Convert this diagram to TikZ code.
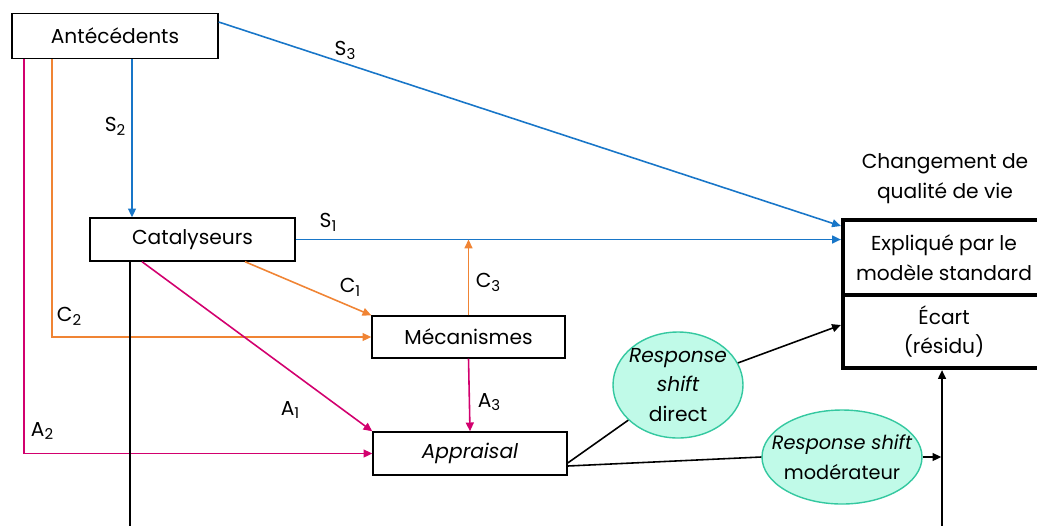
\documentclass[tikz,border=0pt]{standalone}
\usepackage{fontspec}
\setmainfont{Poppins}
\usetikzlibrary{arrows.meta,shapes.geometric}

\definecolor{bleuS}{RGB}{24,118,200}
\definecolor{orangeC}{RGB}{240,132,52}
\definecolor{roseA}{RGB}{210,0,110}
\definecolor{vertfond}{RGB}{192,250,232}
\definecolor{vertbord}{RGB}{52,200,160}

\newcommand{\ind}[1]{\raisebox{-0.35ex}{\fontsize{8.5}{10}\selectfont #1}}

\begin{document}
\begin{tikzpicture}[x=0.02cm,y=-0.02cm,
    font=\fontsize{11.5}{17}\selectfont,
    >={Triangle[length=5pt,width=4.5pt]},
    boite/.style={draw,line width=0.8pt,inner sep=0pt},
    bloc/.style={draw,line width=2.4pt,inner sep=0pt,minimum width=202*0.02cm,align=center},
    bulle/.style={ellipse,draw=vertbord,fill=vertfond,line width=0.8pt,inner xsep=-12pt,inner ysep=-8pt,align=center},
    lien/.style={line width=0.9pt},
    lab/.style={inner sep=0pt}]
\clip (0,0) rectangle (1037,525);

% boites
\node[boite,minimum width=206*0.02cm,minimum height=45*0.02cm] (ante) at (115,36) {Antécédents};
\node[boite,minimum width=205*0.02cm,minimum height=43*0.02cm] (cat) at (192.5,239.5) {Catalyseurs};
\node[boite,minimum width=193*0.02cm,minimum height=42*0.02cm] (meca) at (468.5,337) {Mécanismes};
\node[boite,minimum width=194*0.02cm,minimum height=43*0.02cm] (appr) at (470,453.5) {\itshape Appraisal};

% changement de qualite de vie
\node[align=center,inner sep=0pt] (titre) at (945,179) {Changement de\\qualité de vie};
\node[bloc,minimum height=75*0.02cm] (expl) at (944,257.5) {Expliqué par le\\modèle standard};
\node[bloc,minimum height=73*0.02cm] (ecart) at (944,331.5) {Écart\\(résidu)};

% response shift
\node[bulle,minimum width=130*0.02cm,minimum height=106*0.02cm] (rsd) at (678,385) {\itshape Response\\\itshape shift\\direct};
\node[bulle,minimum width=160*0.02cm,minimum height=94*0.02cm,font=\fontsize{11}{17}\selectfont] (rsm) at (842,457) {\itshape Response shift\\modérateur};

% S
\draw[lien,bleuS,->] (ante.east |- 0,22) -- (expl.west |- 0,226);
\draw[lien,bleuS,->] (132,0 |- ante.south) -- (132,0 |- cat.north);
\draw[lien,bleuS,->] (cat.east) -- (expl.west |- cat.east);
\node[lab] (s3) at (345,50) {S\ind{3}};
\node[lab] (s2) at (115,126) {S\ind{2}};
\node[lab] (s1) at (328,222) {S\ind{1}};

% C
\draw[lien,orangeC,->] (meca.north) -- (meca.north |- cat.east);
\draw[lien,orangeC,->] (245,0 |- cat.south) -- (meca.north west);
\draw[lien,orangeC,->] (52,0 |- ante.south) |- (meca.west);
\node[lab] (c3) at (488,282) {C\ind{3}};
\node[lab] (c1) at (350,287) {C\ind{1}};
\node[lab] (c2) at (69,316) {C\ind{2}};

% A
\draw[lien,roseA,->] (meca.south) -- (appr.north);
\draw[lien,roseA,->] (142,0 |- cat.south) -- (appr.north west);
\draw[lien,roseA,->] (24,0 |- ante.south) |- (appr.west);
\node[lab] (a3) at (489,402) {A\ind{3}};
\node[lab] (a1) at (290,410) {A\ind{1}};
\node[lab] (a2) at (42,431) {A\ind{2}};

% noir
\coordinate (bas1) at (130,530);
\coordinate (bas2) at (942,530);
\draw[lien] (130,0 |- cat.south) -- (bas1);
\draw[lien] (appr.east |- 0,463) -- (rsd);
\draw[lien,->] (rsd) -- (ecart.west |- 0,325);
\draw[lien] (appr.east |- 0,466) -- (rsm.west);
\draw[lien,->] (rsm.east) -- ([xshift=-0.4pt]bas2 |- rsm.east);
\draw[lien,->] (bas2) -- (bas2 |- ecart.south);
\end{tikzpicture}
\end{document}
